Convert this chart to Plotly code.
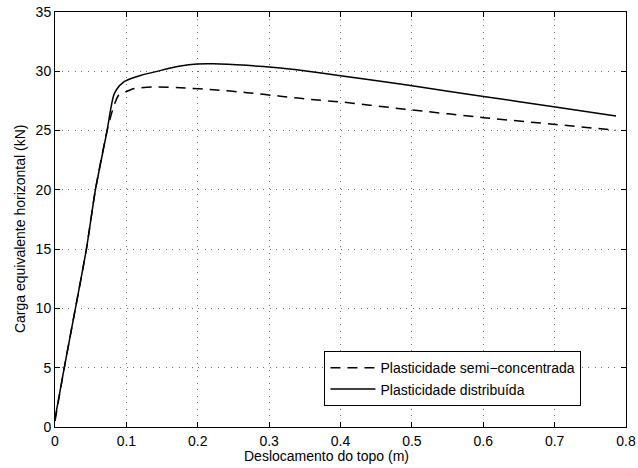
import plotly.graph_objects as go

# Load-displacement curves (top displacement in m, equivalent horizontal load in kN)
disp_semi = [0, 0.013, 0.0286, 0.044, 0.0566, 0.073, 0.082, 0.089, 0.0986, 0.110,
             0.12, 0.14, 0.1826, 0.222, 0.269, 0.3157, 0.341, 0.3553, 0.4,
             0.4836, 0.4977, 0.6004, 0.701, 0.786]
load_semi = [0.5, 5.0, 10.0, 15.0, 20.0, 25.0, 27.0, 27.97, 28.25, 28.53,
             28.6, 28.68, 28.59, 28.45, 28.2, 27.9, 27.74, 27.63, 27.42,
             26.85, 26.76, 26.09, 25.52, 25.02]

disp_dist = [0, 0.013, 0.0286, 0.044, 0.0566, 0.073, 0.078, 0.0822, 0.087, 0.096,
             0.1056, 0.1196, 0.1756, 0.199, 0.222, 0.269, 0.3157, 0.3437, 0.4,
             0.4836, 0.5117, 0.6004, 0.701, 0.786]
load_dist = [0.7, 5.0, 10.0, 15.0, 20.0, 25.0, 26.8, 27.97, 28.53, 29.09,
             29.37, 29.65, 30.44, 30.62, 30.64, 30.5, 30.27, 30.08, 29.63,
             28.92, 28.67, 27.88, 26.98, 26.22]

x_ticks = [0, 0.1, 0.2, 0.3, 0.4, 0.5, 0.6, 0.7, 0.8]
x_tick_labels = ["0", "0.1", "0.2", "0.3", "0.4", "0.5", "0.6", "0.7", "0.8"]
y_ticks = [0, 5, 10, 15, 20, 25, 30, 35]
y_tick_labels = ["0", "5", "10", "15", "20", "25", "30", "35"]

x_label = "Deslocamento do topo (m)"
y_label = "Carga equivalente horizontal (kN)"

FONT = "Liberation Sans, Arial, Helvetica, sans-serif"
TEXT_FONT = dict(family=FONT, size=14, color="black")

fig = go.Figure()
fig.add_trace(go.Scatter(
    x=disp_semi, y=load_semi, mode="lines",
    name="Plasticidade semi\u2212concentrada",
    line=dict(color="black", width=1.5, dash="10px,7px", shape="spline", smoothing=0.6),
))
fig.add_trace(go.Scatter(
    x=disp_dist, y=load_dist, mode="lines",
    name="Plasticidade distribuída",
    line=dict(color="black", width=1.5, shape="spline", smoothing=0.6),
))

axis_common = dict(
    automargin=False,
    showline=True, linecolor="black", linewidth=1, mirror="ticks",
    ticks="inside", ticklen=5, tickcolor="black", tickwidth=1,
    showgrid=True, gridcolor="#707070", gridwidth=1, griddash="1px,5.5px",
    zeroline=False, tickfont=TEXT_FONT,
)

fig.update_xaxes(range=[0, 0.8], tickvals=x_ticks, ticktext=x_tick_labels,
                 ticklabelstandoff=1, **axis_common)
fig.update_yaxes(range=[0, 35], tickvals=y_ticks, ticktext=y_tick_labels,
                 **axis_common)

# Axis labels, placed in paper coordinates just outside the frame
fig.add_annotation(text=x_label, xref="paper", yref="paper", x=0.476, y=-0.070,
                   xanchor="center", yanchor="middle", showarrow=False, font=TEXT_FONT)
fig.add_annotation(text=y_label, xref="paper", yref="paper", x=-0.0622, y=0.478,
                   xanchor="center", yanchor="middle", textangle=-90,
                   showarrow=False, font=TEXT_FONT)

fig.update_layout(
    width=638, height=468,
    margin=dict(l=55, r=12, t=12, b=41),
    paper_bgcolor="white", plot_bgcolor="white",
    font=TEXT_FONT,
    legend=dict(
        x=0.922, y=0.05, xanchor="right", yanchor="bottom",
        bgcolor="white", bordercolor="black", borderwidth=1,
        font=TEXT_FONT, tracegroupgap=0, itemwidth=45,
    ),
    showlegend=True,
)

fig.write_html("out.html")
